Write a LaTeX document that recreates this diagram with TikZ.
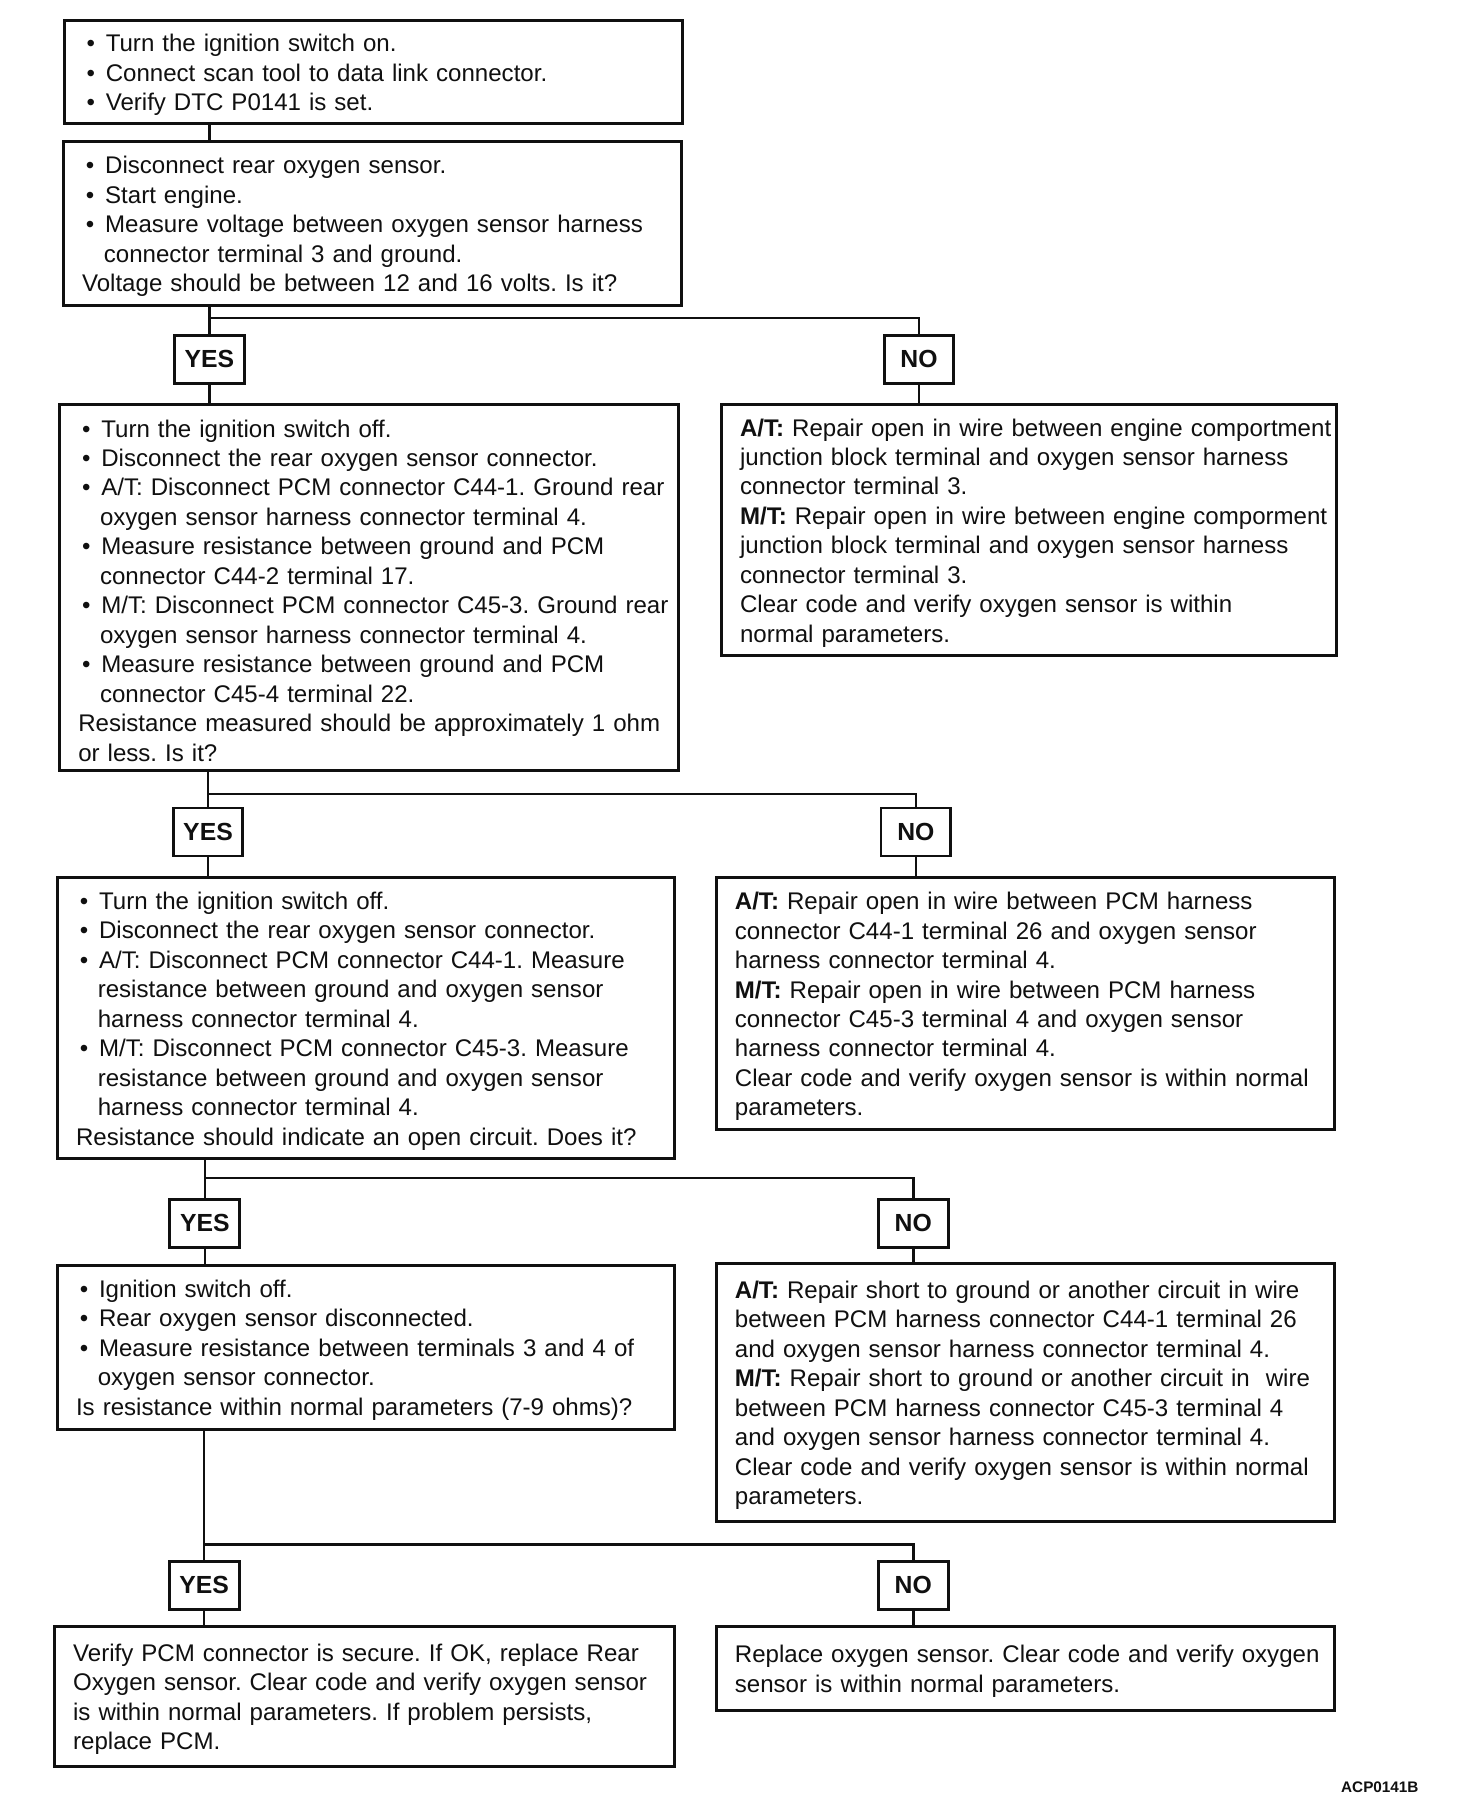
\documentclass[tikz,border=0pt]{standalone}
\usepackage{fontspec}
\setmainfont{Liberation Sans}
\usetikzlibrary{positioning}
\frenchspacing
\definecolor{Ink}{RGB}{16,16,16}
\newcommand{\bul}[1]{\par\noindent\hspace*{0.26cm}\makebox[0.36cm][l]{\hspace{0.06cm}\textbullet}\mbox{#1}}
\newcommand{\cnt}[1]{\par\noindent\hspace*{0.60cm}\mbox{#1}}
\newcommand{\txt}[1]{\par\noindent\hspace*{0.26cm}\mbox{#1}}
\tikzset{
  box/.style={draw=Ink,line width=1.3pt,fill=white,text=Ink,align=left,anchor=north west,inner xsep=0.03cm,inner ysep=0pt,font=\fontsize{10.7}{13.1}\selectfont,execute at end node=\par\kern0.1cm},
  stepbox/.style={box,text width=#1},
  answer/.style={draw=Ink,line width=1.3pt,fill=white,text=Ink,font=\fontsize{11}{13}\selectfont\bfseries,minimum width=1.09cm,minimum height=0.75cm,inner sep=1pt},
  wire/.style={draw=Ink,line width=1.1pt},
  note/.style={font=\fontsize{6.8}{8}\selectfont\bfseries,text=Ink}
}

\begin{document}
\begin{tikzpicture}[x=1cm,y=1cm]
  \fill[white] (0,0) rectangle (23,-28.4375);
  \useasboundingbox (0,0) rectangle (23,-28.4375);
  % checks on the left, repairs on the right
  \node[stepbox=9.60cm,minimum height=1.61cm] (q1) at (0.98,-0.30) {%
    \bul{Turn the ignition switch on.}
    \bul{Connect scan tool to data link connector.}
    \bul{Verify DTC P0141 is set.}};
  \node[stepbox=9.60cm,minimum height=2.56cm] (q2) at (0.97,-2.19) {%
    \bul{Disconnect rear oxygen sensor.}
    \bul{Start engine.}
    \bul{Measure voltage between oxygen sensor harness}
    \cnt{connector terminal 3 and ground.}
    \txt{Voltage should be between 12 and 16 volts. Is it?}};
  \node[stepbox=9.61cm,minimum height=5.72cm] (q3) at (0.91,-6.30) {%
    \bul{Turn the ignition switch off.}
    \bul{Disconnect the rear oxygen sensor connector.}
    \bul{A/T: Disconnect PCM connector C44-1. Ground rear}
    \cnt{oxygen sensor harness connector terminal 4.}
    \bul{Measure resistance between ground and PCM}
    \cnt{connector C44-2 terminal 17.}
    \bul{M/T: Disconnect PCM connector C45-3. Ground rear}
    \cnt{oxygen sensor harness connector terminal 4.}
    \bul{Measure resistance between ground and PCM}
    \cnt{connector C45-4 terminal 22.}
    \txt{Resistance measured should be approximately 1 ohm}
    \txt{or less. Is it?}};
  \node[stepbox=9.55cm,minimum height=3.92cm] (r1) at (11.25,-6.30) {%
    \txt{\textbf{A/T:} Repair open in wire between engine comportment}
    \txt{junction block terminal and oxygen sensor harness}
    \txt{connector terminal 3.}
    \txt{\textbf{M/T:} Repair open in wire between engine comporment}
    \txt{junction block terminal and oxygen sensor harness}
    \txt{connector terminal 3.}
    \txt{Clear code and verify oxygen sensor is within}
    \txt{normal parameters.}};
  \node[stepbox=9.58cm,minimum height=4.39cm] (q4) at (0.875,-13.69) {%
    \bul{Turn the ignition switch off.}
    \bul{Disconnect the rear oxygen sensor connector.}
    \bul{A/T: Disconnect PCM connector C44-1. Measure}
    \cnt{resistance between ground and oxygen sensor}
    \cnt{harness connector terminal 4.}
    \bul{M/T: Disconnect PCM connector C45-3. Measure}
    \cnt{resistance between ground and oxygen sensor}
    \cnt{harness connector terminal 4.}
    \txt{Resistance should indicate an open circuit. Does it?}};
  \node[stepbox=9.60cm,minimum height=3.94cm] (r2) at (11.17,-13.69) {%
    \txt{\textbf{A/T:} Repair open in wire between PCM harness}
    \txt{connector C44-1 terminal 26 and oxygen sensor}
    \txt{harness connector terminal 4.}
    \txt{\textbf{M/T:} Repair open in wire between PCM harness}
    \txt{connector C45-3 terminal 4 and oxygen sensor}
    \txt{harness connector terminal 4.}
    \txt{Clear code and verify oxygen sensor is within normal}
    \txt{parameters.}};
  \node[stepbox=9.58cm,minimum height=2.56cm] (q5) at (0.875,-19.75) {%
    \bul{Ignition switch off.}
    \bul{Rear oxygen sensor disconnected.}
    \bul{Measure resistance between terminals 3 and 4 of}
    \cnt{oxygen sensor connector.}
    \txt{Is resistance within normal parameters (7-9 ohms)?}};
  \node[stepbox=9.60cm,minimum height=4.03cm] (r3) at (11.17,-19.72) {%
    \txt{\textbf{A/T:} Repair short to ground or another circuit in wire}
    \txt{between PCM harness connector C44-1 terminal 26}
    \txt{and oxygen sensor harness connector terminal 4.}
    \txt{\textbf{M/T:} Repair short to ground or another circuit in\ \ wire}
    \txt{between PCM harness connector C45-3 terminal 4}
    \txt{and oxygen sensor harness connector terminal 4.}
    \txt{Clear code and verify oxygen sensor is within normal}
    \txt{parameters.}};
  \node[stepbox=9.63cm,minimum height=2.19cm] (q6) at (0.83,-25.39) {%
    \txt{Verify PCM connector is secure. If OK, replace Rear}
    \txt{Oxygen sensor. Clear code and verify oxygen sensor}
    \txt{is within normal parameters. If problem persists,}
    \txt{replace PCM.}};
  \node[stepbox=9.60cm,minimum height=1.31cm] (r4) at (11.17,-25.39) {%
    \txt{Replace oxygen sensor. Clear code and verify oxygen}
    \txt{sensor is within normal parameters.}};

  % answers
  \node[answer] (y1) at (3.27,-5.61) {YES};
  \node[answer] (n1) at (14.36,-5.61) {NO};
  \node[answer] (y2) at (3.25,-13.00) {YES};
  \node[answer] (n2) at (14.31,-13.00) {NO};
  \node[answer] (y3) at (3.20,-19.11) {YES};
  \node[answer] (n3) at (14.27,-19.11) {NO};
  \node[answer] (y4) at (3.19,-24.77) {YES};
  \node[answer] (n4) at (14.27,-24.77) {NO};
  \coordinate (b1) at (0,-4.97);
  \coordinate (b2) at (0,-12.41);
  \coordinate (b3) at (0,-18.41);
  \coordinate (b4) at (0,-24.13);

  \draw[wire] (q1.south -| y1) -- (q2.north -| y1);
  \draw[wire] (q2.south -| y1) -- (y1.north);
  \draw[wire] (y1.south) -- (q3.north -| y1);
  \draw[wire] (b1 -| y1) -| (n1.north);
  \draw[wire] (n1.south) -- (r1.north -| n1);
  \draw[wire] (q3.south -| y2) -- (y2.north);
  \draw[wire] (y2.south) -- (q4.north -| y2);
  \draw[wire] (b2 -| y2) -| (n2.north);
  \draw[wire] (n2.south) -- (r2.north -| n2);
  \draw[wire] (q4.south -| y3) -- (y3.north);
  \draw[wire] (y3.south) -- (q5.north -| y3);
  \draw[wire] (b3 -| y3) -| (n3.north);
  \draw[wire] (n3.south) -- (r3.north -| n3);
  \draw[wire] (q5.south -| y4) -- (y4.north);
  \draw[wire] (y4.south) -- (q6.north -| y4);
  \draw[wire] (b4 -| y4) -| (n4.north);
  \draw[wire] (n4.south) -- (r4.north -| n4);

  \node[note] (tag) at (21.56,-27.92) {ACP0141B};
\end{tikzpicture}
\end{document}
